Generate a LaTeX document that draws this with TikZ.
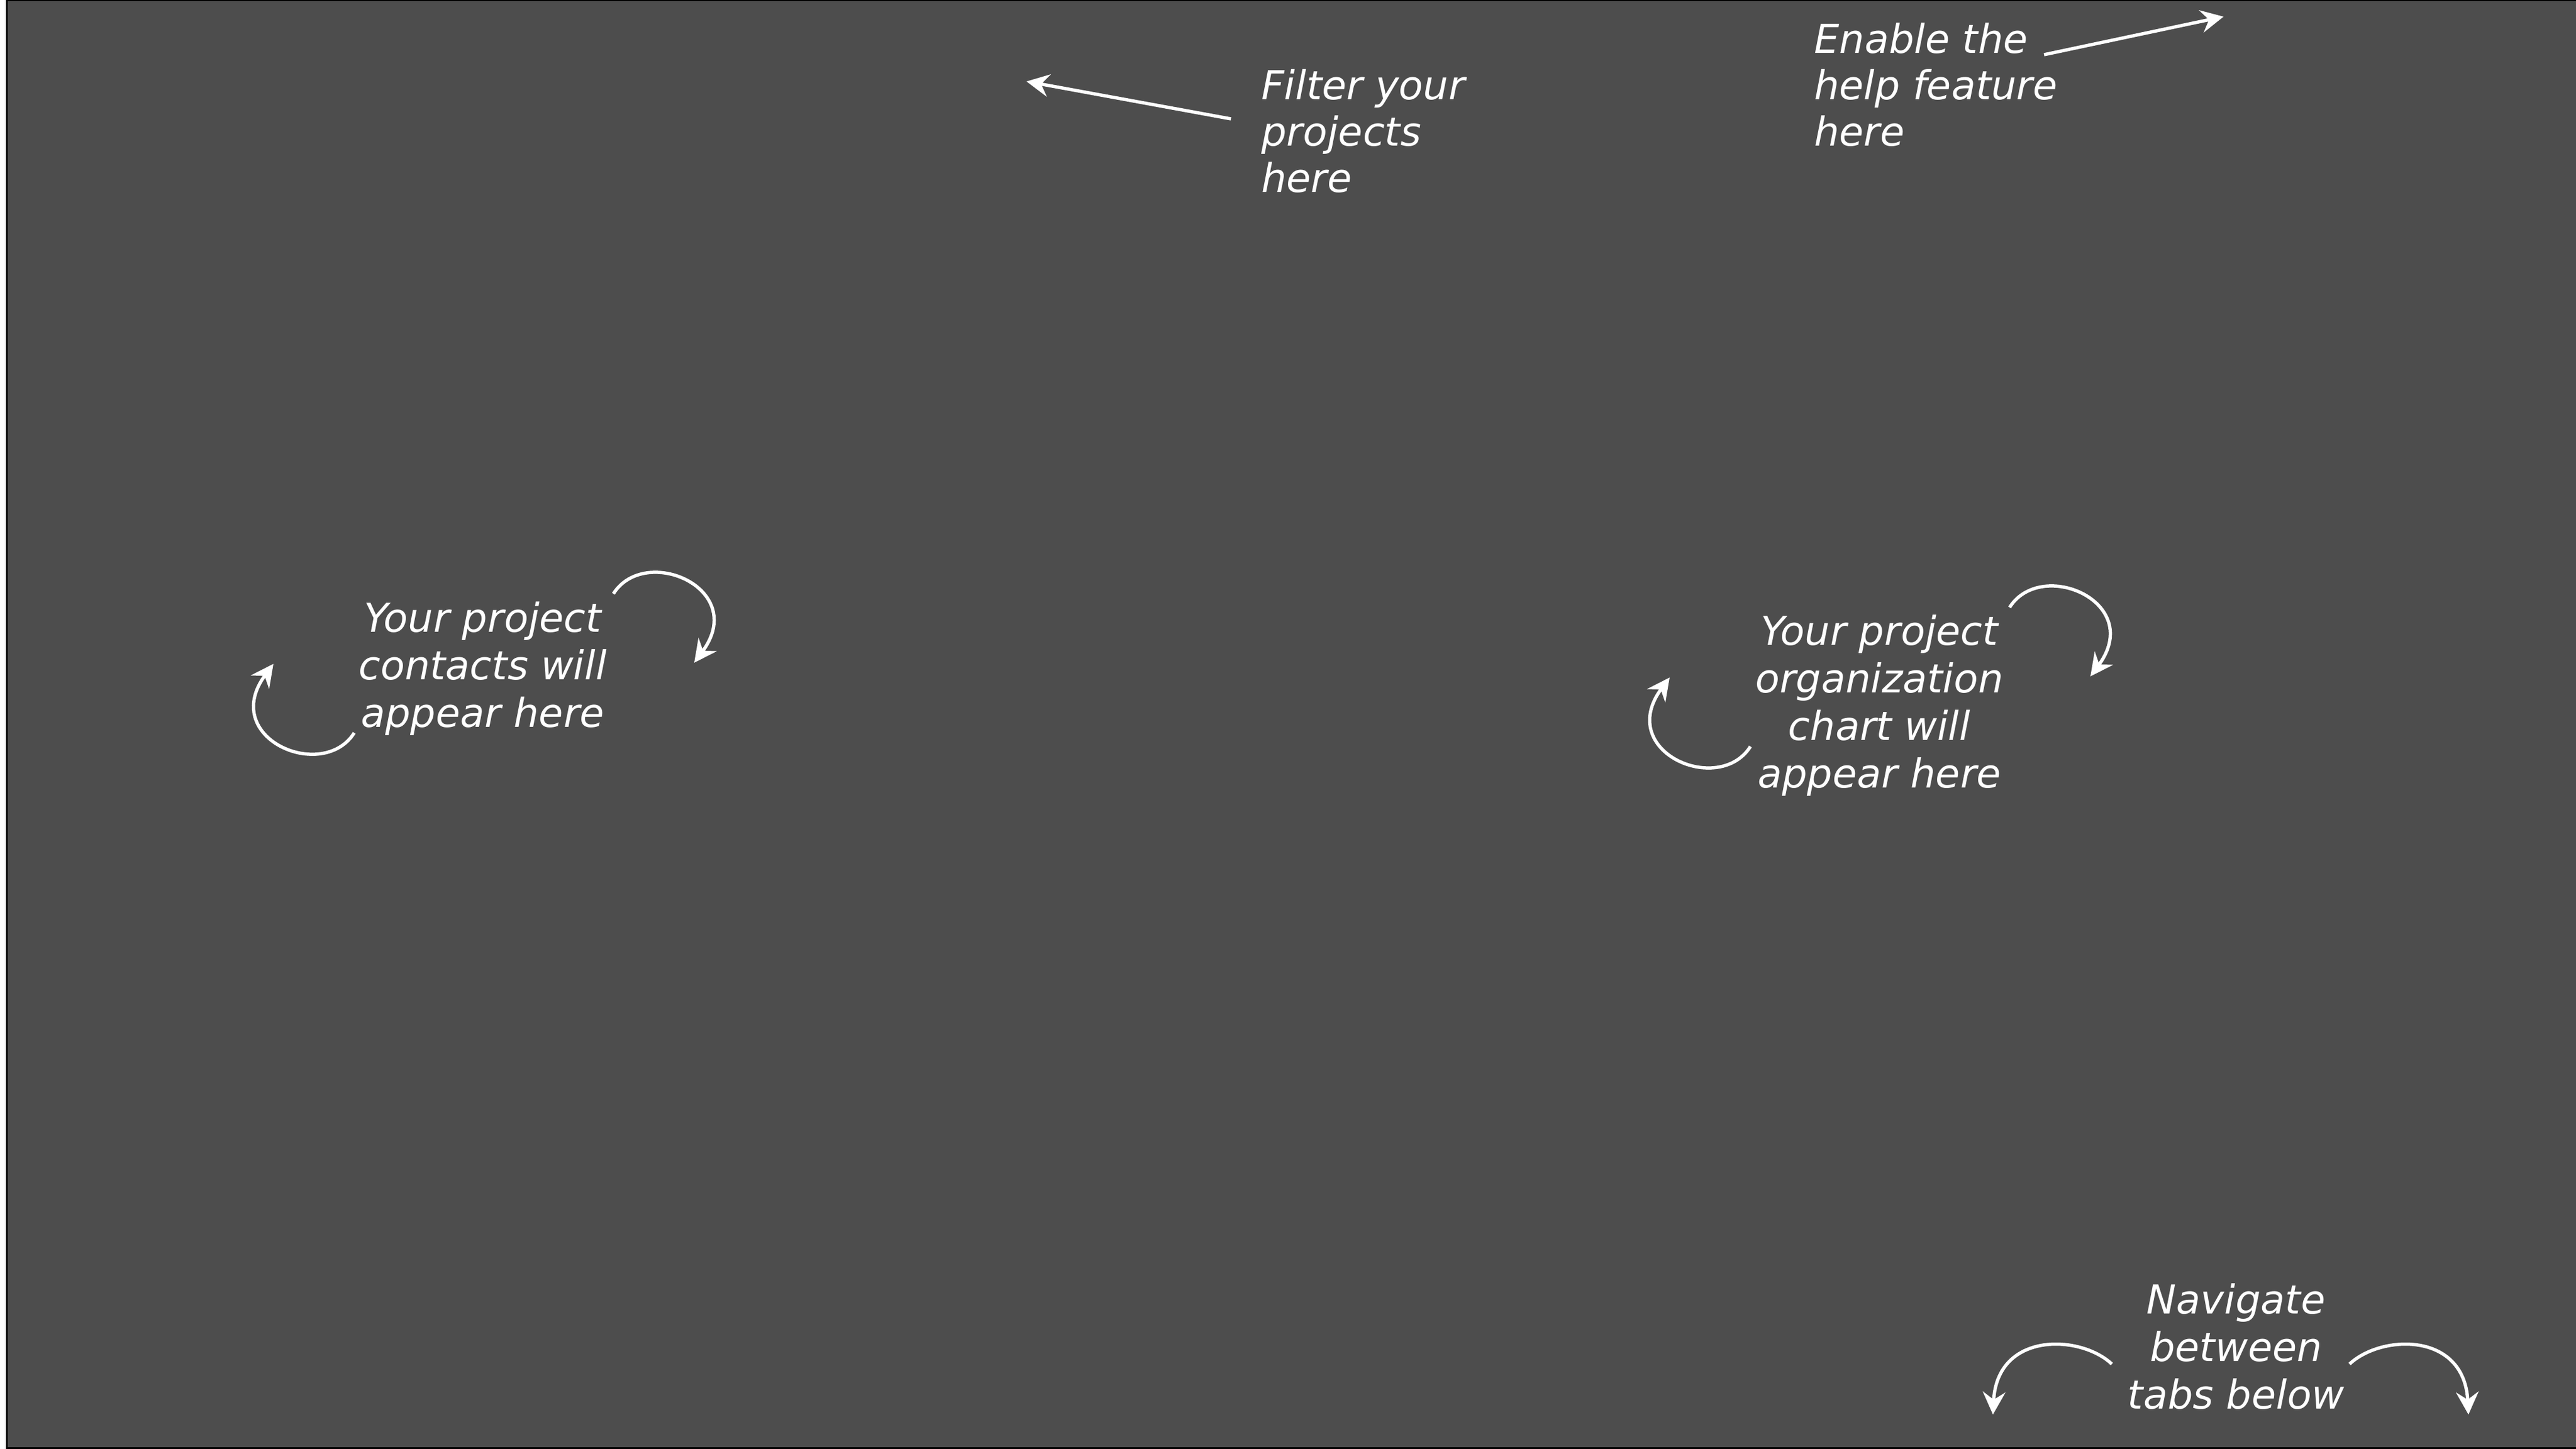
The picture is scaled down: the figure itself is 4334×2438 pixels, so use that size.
\documentclass[tikz,border=0pt]{standalone}
\usepackage{fontspec}
\setmainfont{DejaVu Sans}
\usetikzlibrary{arrows.meta}
\definecolor{bg}{HTML}{4D4D4D}
\begin{document}
\begin{tikzpicture}[x=1pt,y=-1pt,
  note/.style={inner sep=0pt, text=white, font=\fontsize{67}{78}\selectfont\itshape},
  widenote/.style={note, font=\fontsize{67}{80}\selectfont\itshape},
  pointer/.style={draw=white, line width=5.5pt, -{Stealth[length=38pt,width=38pt,inset=13pt]}}]
\useasboundingbox (0,0) rectangle (4334,2438);
\fill[white] (0,0) rectangle (4334,2438);
\fill[black] (10,0) rectangle (4334,2438);
\fill[bg] (13,2) rectangle (4334,2435);

% texts
\node[note, anchor=north west, align=left] (filter) at (2122,113) {\strut Filter your\\projects\\here};
\node[note, anchor=north west, align=left] (help) at (3052,35) {\strut Enable the\\help feature\\here};
\node[widenote, anchor=north, align=center] (contacts) at (812,1007) {\strut Your project\\contacts will\\appear here};
\node[widenote, anchor=north, align=center] (org) at (3162,1029) {\strut Your project\\organization\\chart will\\appear here};
\node[widenote, anchor=north, align=center] (nav) at (3762,2154) {\strut Navigate\\between\\tabs below};

% straight pointers
\coordinate (fs) at (2071,200); \coordinate (ft) at (1727,137);
\draw[pointer] (fs) -- (ft);
\coordinate (hs) at (3439,92); \coordinate (ht) at (3741,28);
\draw[pointer] (hs) -- (ht);

% contacts arcs
\coordinate (c1s) at (1032,999); \coordinate (c1t) at (1168,1115);
\draw[pointer] (c1s) .. controls (1085,915) and (1260,990) .. (c1t);
\coordinate (c2s) at (596,1233); \coordinate (c2t) at (460,1117);
\draw[pointer] (c2s) .. controls (543,1317) and (368,1242) .. (c2t);

% org arcs
\coordinate (o1s) at (3381,1022); \coordinate (o1t) at (3517,1138);
\draw[pointer] (o1s) .. controls (3434,938) and (3609,1013) .. (o1t);
\coordinate (o2s) at (2945,1256); \coordinate (o2t) at (2809,1140);
\draw[pointer] (o2s) .. controls (2892,1340) and (2717,1265) .. (o2t);

% navigate arcs
\coordinate (n1s) at (3553,2295); \coordinate (n1t) at (3353,2380);
\draw[pointer] (n1s) .. controls (3500,2245) and (3360,2240) .. (n1t);
\coordinate (n2s) at (3953,2295); \coordinate (n2t) at (4153,2380);
\draw[pointer] (n2s) .. controls (4006,2245) and (4146,2240) .. (n2t);
\end{tikzpicture}
\end{document}
